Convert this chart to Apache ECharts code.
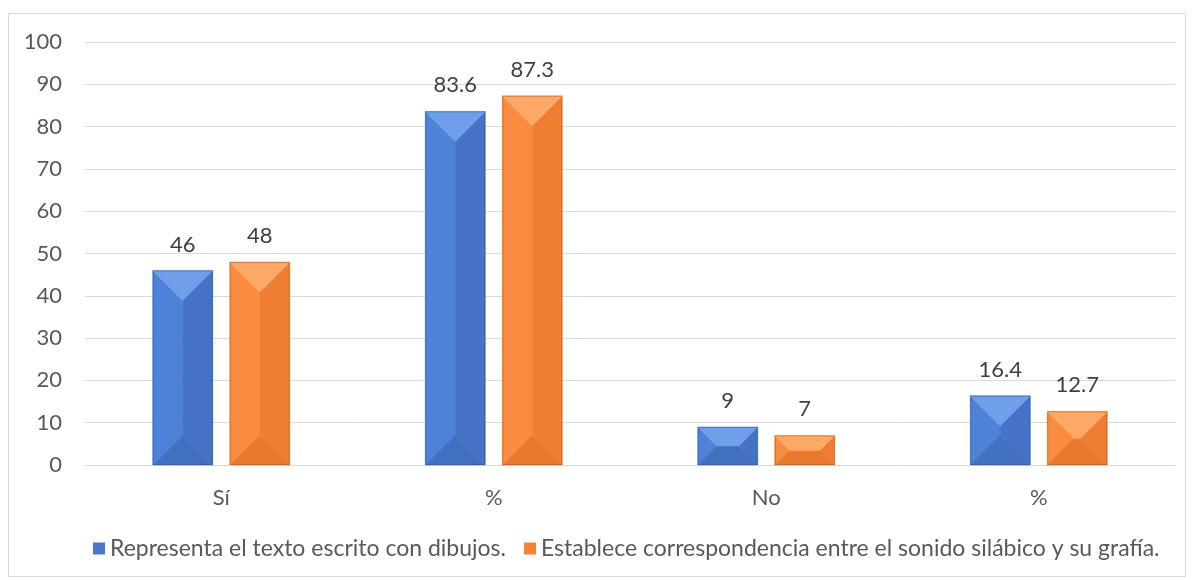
<!DOCTYPE html>
<html><head><meta charset="utf-8">
<script src="https://cdn.jsdelivr.net/npm/echarts@6/dist/echarts.min.js"></script>
<style>html,body{margin:0;padding:0;background:#fff}#c{width:1193px;height:580px}</style>
</head><body><div id="c"></div>
<script>
const categories = ['Sí', '%', 'No', '%'];
const seriesNames = ['Representa el texto escrito con dibujos.', 'Establece correspondencia entre el sonido silábico y su grafía.'];
const seriesA = [46, 83.6, 9, 16.4];
const seriesB = [48, 87.3, 7, 12.7];
const yTicks = {min: 0, max: 100, interval: 10};

const FONT = 'Lato, "Open Sans", sans-serif';
const palettes = [
  {base: '#4877CC', top: '#6F9EEA', left: '#4E81D8', right: '#4673C6', bottom: '#4270C0', border: '#2F5597'},
  {base: '#F28434', top: '#FDA866', left: '#F98C3E', right: '#EE7F32', bottom: '#E8792D', border: '#B55B1F'}
];
const BAR_W = 60, GAP = 17;

function makeRender(idx) {
  const p = palettes[idx];
  const off = (idx === 0 ? -1 : 1) * (BAR_W + GAP) / 2;
  return function (params, api) {
    const v = api.value(1);
    const top = api.coord([api.value(0), v]);
    const bot = api.coord([api.value(0), 0]);
    const cx = top[0] + off;
    const x0 = cx - BAR_W / 2, x1 = cx + BAR_W / 2;
    const y0 = top[1], y1 = bot[1];
    const h = y1 - y0;
    const d = Math.min(BAR_W / 2, h / 2);
    const ix0 = x0 + d, ix1 = x1 - d, iy0 = y0 + d, iy1 = y1 - d;
    const poly = (pts, c) => ({type: 'polygon', shape: {points: pts}, style: {fill: c, stroke: c, lineWidth: 0.5}});
    return {
      type: 'group',
      children: [
        poly([[x0, y0], [ix0, iy0], [ix0, iy1], [x0, y1]], p.left),
        poly([[x1, y0], [ix1, iy0], [ix1, iy1], [x1, y1]], p.right),
        poly([[x0, y1], [ix0, iy1], [ix1, iy1], [x1, y1]], p.bottom),
        poly([[x0, y0], [x1, y0], [ix1, iy0], [ix0, iy0]], p.top),
        {type: 'rect', shape: {x: ix0, y: iy0, width: Math.max(0, ix1 - ix0), height: Math.max(0, iy1 - iy0)}, style: {fill: p.base}},
        {type: 'rect', shape: {x: x0 + 0.5, y: y0 + 0.5, width: BAR_W - 1, height: h - 1}, style: {fill: 'none', stroke: p.border, lineWidth: 1, opacity: 0.55}},
        {type: 'text', style: {text: String(v), x: cx, y: y0 - 15, align: 'center', verticalAlign: 'bottom',
          fill: '#404040', font: '22px ' + FONT}}
      ]
    };
  };
}

const chart = echarts.init(document.getElementById('c'), null, {renderer: 'canvas'});
chart.setOption({
  backgroundColor: '#fff',
  animation: false,
  graphic: [{type: 'rect', shape: {x: 8.5, y: 13.5, width: 1177, height: 563}, style: {fill: 'none', stroke: '#d9d9d9', lineWidth: 1}, silent: true}],
  grid: {left: 85, right: 18, top: 42, bottom: 115},
  legend: {
    bottom: 15, left: 88, itemWidth: 12, itemHeight: 12, itemGap: 18,
    icon: 'rect',
    textStyle: {fontSize: 23, color: '#595959', fontFamily: FONT},
    data: seriesNames
  },
  xAxis: {
    type: 'category', data: categories,
    axisLine: {lineStyle: {color: '#d9d9d9'}}, axisTick: {show: false},
    axisLabel: {fontSize: 22, color: '#595959', margin: 22, fontFamily: FONT}
  },
  yAxis: {
    type: 'value', min: yTicks.min, max: yTicks.max, interval: yTicks.interval,
    axisLine: {show: false}, axisTick: {show: false},
    splitLine: {lineStyle: {color: '#d9d9d9'}},
    axisLabel: {fontSize: 22, color: '#595959', margin: 23, fontFamily: FONT}
  },
  series: [
    {name: seriesNames[0], type: 'custom', renderItem: makeRender(0), itemStyle: {color: palettes[0].base},
      encode: {x: 0, y: 1}, data: seriesA.map((v, i) => [i, v])},
    {name: seriesNames[1], type: 'custom', renderItem: makeRender(1), itemStyle: {color: palettes[1].base},
      encode: {x: 0, y: 1}, data: seriesB.map((v, i) => [i, v])}
  ]
});
</script></body></html>
